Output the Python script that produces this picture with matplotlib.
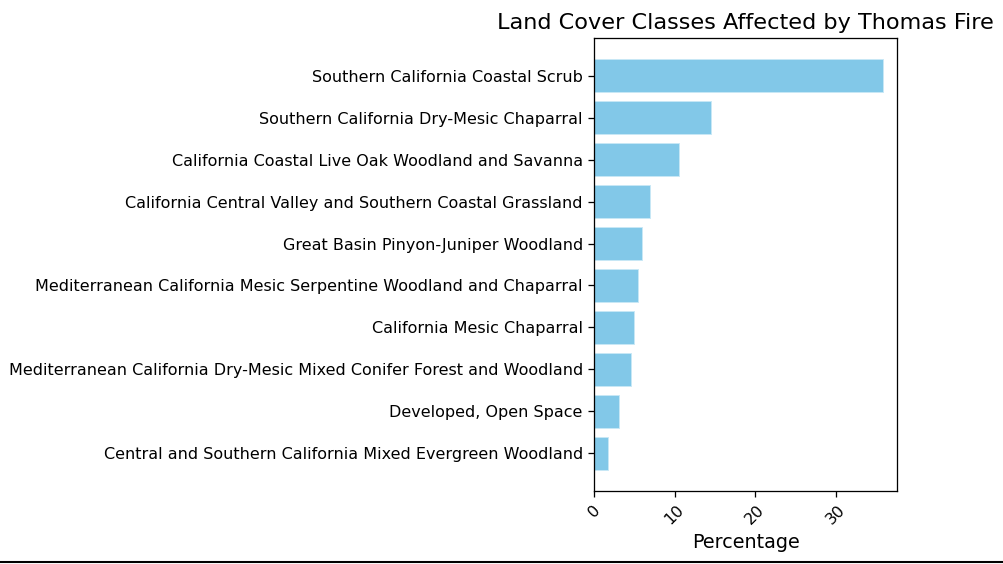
import matplotlib.pyplot as plt
from matplotlib.lines import Line2D

# land cover classes and their share of the burned area (%)
classes = [
    "Southern California Coastal Scrub",
    "Southern California Dry-Mesic Chaparral",
    "California Coastal Live Oak Woodland and Savanna",
    "California Central Valley and Southern Coastal Grassland",
    "Great Basin Pinyon-Juniper Woodland",
    "Mediterranean California Mesic Serpentine Woodland and Chaparral",
    "California Mesic Chaparral",
    "Mediterranean California Dry-Mesic Mixed Conifer Forest and Woodland",
    "Developed, Open Space",
    "Central and Southern California Mixed Evergreen Woodland",
]
percentages = [35.8, 14.5, 10.5, 6.9, 5.9, 5.5, 4.9, 4.6, 3.1, 1.8]

DPI = 115


def main():
    fig = plt.figure(figsize=(1004 / DPI, 564 / DPI), dpi=DPI)
    ax = fig.add_axes([0.5916, 0.130, 0.3021, 0.802])

    # largest class on top
    ax.barh(classes[::-1], percentages[::-1], color='#82c8e8', edgecolor='#c8e8f6', linewidth=0.6)

    ax.set_title("Land Cover Classes Affected by Thomas Fire", fontsize=14)
    ax.set_xlabel("Percentage", fontsize=12)
    ax.tick_params(axis='y', labelsize=10)
    plt.setp(ax.get_xticklabels(), rotation=45, fontsize=10)

    # screenshot border line along the bottom
    fig.add_artist(Line2D([0, 1], [0.003, 0.003], color='black', linewidth=1.3, transform=fig.transFigure))

    fig.savefig("out.png", dpi=DPI)


if __name__ == "__main__":
    main()
